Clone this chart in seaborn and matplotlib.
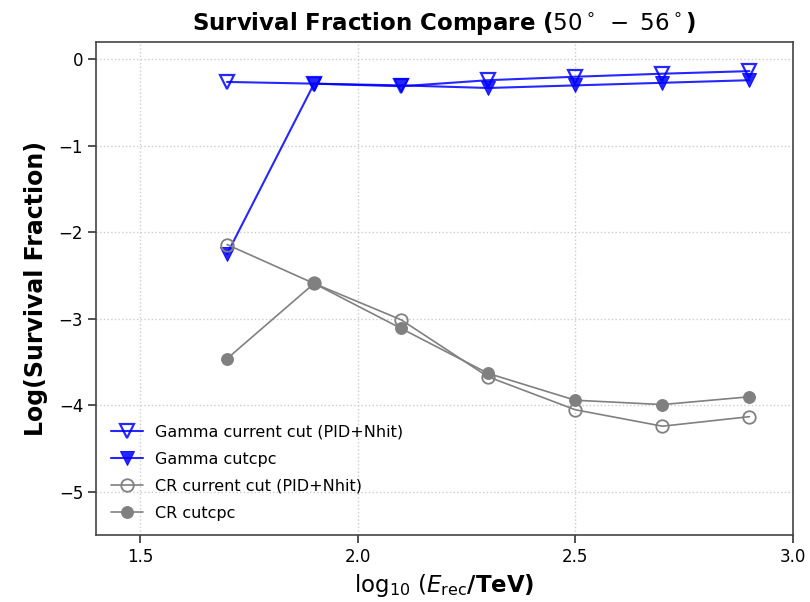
import matplotlib
matplotlib.use("Agg")
import matplotlib.pyplot as plt
import seaborn as sns
import pandas as pd

energy = [1.7, 1.9, 2.1, 2.3, 2.5, 2.7, 2.9]
gamma_current = [-0.26, -0.28, -0.31, -0.24, -0.20, -0.165, -0.135]
gamma_cutcpc = [-2.25, -0.28, -0.30, -0.33, -0.30, -0.27, -0.24]
cr_current = [-2.14, -2.59, -3.01, -3.67, -4.05, -4.24, -4.13]
cr_cutcpc = [-3.46, -2.59, -3.11, -3.63, -3.94, -3.99, -3.90]

labels = ["Gamma current cut (PID+Nhit)", "Gamma cutcpc",
          "CR current cut (PID+Nhit)", "CR cutcpc"]

sns.set_style("ticks")
plt.rcParams['font.family'] = ['DejaVu Sans']
plt.rcParams['text.color'] = 'black'
plt.rcParams['axes.labelcolor'] = 'black'
plt.rcParams['xtick.color'] = '#333333'
plt.rcParams['ytick.color'] = '#333333'
plt.rcParams['xtick.labelcolor'] = 'black'
plt.rcParams['ytick.labelcolor'] = 'black'

fig = plt.figure(figsize=(8.1, 6.02), dpi=100)
ax = fig.add_axes([0.119, 0.111, 0.860, 0.819])

df = pd.DataFrame({"x": energy, "gc": gamma_current, "gp": gamma_cutcpc,
                   "cc": cr_current, "cp": cr_cutcpc})

sns.lineplot(data=df, x="x", y="gc", ax=ax, color="blue", lw=1.5, marker="v",
             markersize=9.5, markerfacecolor="none", markeredgecolor="blue",
             markeredgewidth=1.6, label=labels[0], alpha=0.85)
sns.lineplot(data=df, x="x", y="gp", ax=ax, color="blue", lw=1.5, marker="v",
             markersize=9.5, markerfacecolor="blue", markeredgecolor="blue",
             label=labels[1], alpha=0.85)
sns.lineplot(data=df, x="x", y="cc", ax=ax, color="gray", lw=1.2, marker="o",
             markersize=9, markerfacecolor="none", markeredgecolor="gray",
             markeredgewidth=1.3, label=labels[2])
sns.lineplot(data=df, x="x", y="cp", ax=ax, color="gray", lw=1.2, marker="o",
             markersize=8.5, markerfacecolor="gray", markeredgecolor="gray",
             label=labels[3])

ax.set_xlim(1.4, 3.0)
ax.set_ylim(-5.5, 0.2)
ax.set_xticks([1.5, 2.0, 2.5, 3.0])
ax.set_yticks([0, -1, -2, -3, -4, -5])
ax.grid(True, linestyle=":", color="#cccccc", linewidth=1.0)
ax.tick_params(axis="both", labelsize=12, length=6, width=1.2)
for s in ax.spines.values():
    s.set_color("#444444")
    s.set_linewidth(1.2)

ax.set_title(r"Survival Fraction Compare ($50^\circ\;-\;56^\circ$)",
             fontsize=16.5, fontweight="bold", pad=9)
ax.set_ylabel("Log(Survival Fraction)", fontsize=17, fontweight="bold",
              labelpad=8)
ax.set_xlabel(r"$\log_{10}\,(E_{\rm rec}$/TeV)", fontsize=16.5,
              fontweight="bold")

leg = ax.legend(loc="lower left", frameon=False, fontsize=11.5,
                bbox_to_anchor=(0.0, 0.0), labelspacing=0.75)

fig.savefig("out.png", dpi=100)
